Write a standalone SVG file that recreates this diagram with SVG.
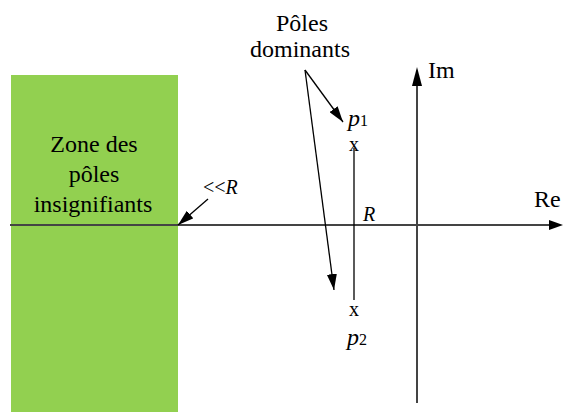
<svg xmlns="http://www.w3.org/2000/svg" width="563" height="412" viewBox="0 0 563 412">
<defs>
<marker id="ahL" viewBox="0 0 16 10" refX="16" refY="5" markerWidth="16" markerHeight="10" markerUnits="userSpaceOnUse" orient="auto">
<path d="M0,0 L16,5 L0,10 z" fill="#000"/>
</marker>
</defs>
<style>
text{font-family:"Liberation Serif","DejaVu Serif","Times New Roman",Tinos,serif;fill:#000;font-size:24px}
.s{font-size:20px}
.i{font-style:italic}
.ln{stroke:#000;stroke-width:1.3;fill:none}
.ax{stroke:#444;stroke-width:2;fill:none}
</style>
<rect width="563" height="412" fill="#fff"/>
<g id="zone">
<rect x="11" y="75" width="167" height="337" fill="#92D050"/>
<text x="94" y="152" text-anchor="middle">Zone des</text>
<text x="94" y="182" text-anchor="middle">pôles</text>
<text x="93" y="212" text-anchor="middle">insignifiants</text>
</g>
<g id="axes">
<line class="ax" x1="10" y1="225" x2="551" y2="225"/>
<path d="M549,220 L563,225 L549,230 z" fill="#000"/>
<line class="ax" x1="417" y1="403" x2="417" y2="84"/>
<path d="M412,86 L417,67 L422,86 z" fill="#000"/>
<text x="428" y="78">Im</text>
<text x="534" y="207">Re</text>
</g>
<g id="poles">
<line class="ln" x1="354" y1="148" x2="354" y2="300"/>
<text class="s" x="354" y="151" text-anchor="middle">x</text>
<text class="s" x="354" y="316" text-anchor="middle">x</text>
<text class="i" x="348" y="126">p<tspan style="font-style:normal;font-size:16px">1</tspan></text>
<text class="i" x="347" y="345">p<tspan style="font-style:normal;font-size:16px">2</tspan></text>
<text class="i s" x="363" y="221">R</text>
</g>
<g id="labels">
<text x="302" y="31" text-anchor="middle">Pôles</text>
<text x="300" y="57" text-anchor="middle">dominants</text>
<text class="s" x="203" y="194">&lt;&lt;<tspan class="i">R</tspan></text>
</g>
<g id="connectors">
<line class="ln" x1="305" y1="70" x2="343" y2="122" marker-end="url(#ahL)"/>
<line class="ln" x1="305" y1="70" x2="334" y2="290" marker-end="url(#ahL)"/>
<line class="ln" x1="208" y1="199" x2="178" y2="225" marker-end="url(#ahL)"/>
</g>
</svg>
